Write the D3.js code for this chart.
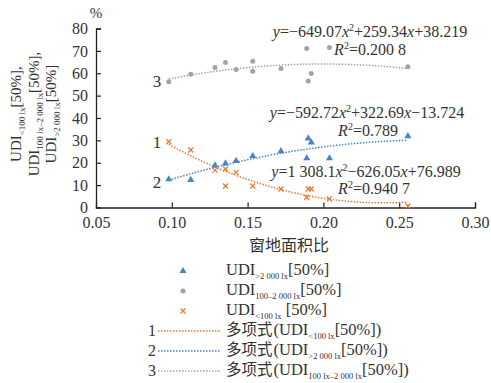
<!DOCTYPE html>
<html><head><meta charset="utf-8">
<script src="https://cdn.jsdelivr.net/npm/d3@7"></script>
<style>
body{margin:0;background:#fff;}
svg{display:block;}
</style></head>
<body><svg id="c" width="491" height="383"></svg>
<script>
// ---- data ----
const xTicks = [0.05, 0.10, 0.15, 0.20, 0.25, 0.30];
const yTicks = [0, 10, 20, 30, 40, 50, 60, 70, 80];

const xLow = [0.098, 0.1125, 0.1285, 0.1354, 0.1354, 0.1424, 0.1534, 0.172, 0.189, 0.190, 0.192, 0.204, 0.2557];
const yLow = [29.4, 25.7, 16.7, 17.2, 9.6, 15.7, 9.6, 8.3, 4.5, 8.3, 8.3, 3.8, 0.7];

const xHigh = [0.098, 0.1125, 0.1285, 0.1354, 0.1424, 0.1534, 0.172, 0.189, 0.190, 0.192, 0.204, 0.2557];
const yHigh = [12.6, 12.3, 18.8, 19.7, 20.8, 23.0, 25.2, 22.0, 30.9, 29.1, 22.0, 31.9];

const xMid = [0.098, 0.1125, 0.1285, 0.1354, 0.1424, 0.1534, 0.1534, 0.172, 0.189, 0.190, 0.192, 0.204, 0.2557];
const yMid = [56.2, 59.5, 62.6, 64.8, 61.7, 65.4, 60.9, 62.1, 71.1, 56.5, 59.9, 71.5, 62.9];

// polynomial trend coefficients as printed on the chart [a, b, c] : y = a x^2 + b x + c
const coefLow = [1308.1, -626.05, 76.989];
const coefHigh = [-592.72, 322.69, -13.724];
const coefMid = [-649.07, 259.34, 38.219];
const trendRange = [0.098, 0.2557];

const colBlue = "#4a84c4", colOrange = "#e47d3a", colGrey = "#a3a3a3";
const SERIF = '"Liberation Serif"';
const CJK = '"Noto Sans CJK SC"';

// ---- chart ----
const svg = d3.select("#c");
const x = d3.scaleLinear().domain([0.05, 0.30]).range([96, 475]);
const y = d3.scaleLinear().domain([0, 80]).range([207.5, 28.5]);

// axes
const xAxis = d3.axisBottom(x).tickValues(xTicks).tickSize(-5).tickFormat(d3.format(".2f")).tickPadding(9);
const yAxis = d3.axisLeft(y).tickValues(yTicks).tickSize(-5).tickPadding(8);
const gx = svg.append("g").attr("transform", `translate(0,${y(0)})`).call(xAxis);
const gy = svg.append("g").attr("transform", `translate(${x(0.05)},0)`).call(yAxis);
[gx, gy].forEach(g => {
  g.attr("font-family", null).attr("font-size", null);
  g.select(".domain").attr("stroke", "#222").attr("stroke-width", 1.3);
  g.selectAll(".tick line").attr("stroke", "#222").attr("stroke-width", 1.2);
  g.selectAll(".tick text").style("font-family", SERIF).style("font-size", "16px").attr("fill", "#333");
});
gx.selectAll(".tick").filter(d => d === 0.05).select("line").remove();
gy.selectAll(".tick").filter(d => d === 0).select("line").remove();

svg.append("text").attr("x", x(0.05)).attr("y", 18).attr("text-anchor", "middle")
  .style("font-family", SERIF).style("font-size", "15px").attr("fill", "#333").text("%");

// x title
svg.append("text").attr("x", 289).attr("y", 251).attr("text-anchor", "middle")
  .style("font-family", CJK).style("font-size", "16px").attr("fill", "#333").text("窗地面积比");

function richText(sel, parts, size, subSize, shift) {
  sel.style("font-family", SERIF).style("font-size", size + "px");
  parts.forEach(p => {
    const ts = sel.append("tspan");
    if (p.sub) {
      ts.style("font-size", subSize + "px").attr("dy", shift).text(p.t);
    } else if (p.back) {
      ts.attr("dy", -shift).text(p.t);
    } else {
      ts.text(p.t);
      if (p.cjk) ts.style("font-family", CJK).style("font-size", (size - 1) + "px");
      if (p.gap) ts.attr("dx", p.gap);
    }
  });
}

// y title (three rotated lines)
const yTitle = [
  {xx: 21, parts: [{t: "UDI"}, {t: "<100 lx", sub: true}, {t: "[50%],", back: true}]},
  {xx: 39, parts: [{t: "UDI"}, {t: "100 lx–2 000 lx", sub: true}, {t: "[50%],", back: true}]},
  {xx: 56, parts: [{t: "UDI"}, {t: ">2 000 lx", sub: true}, {t: "[50%]", back: true}]}
];
yTitle.forEach(l => {
  const t = svg.append("text").attr("transform", `translate(${l.xx},114) rotate(-90)`)
    .attr("text-anchor", "middle").attr("fill", "#333");
  richText(t, l.parts, 15, 9, 4);
});

// trend lines
const line = d3.line().x(d => x(d[0])).y(d => y(d[1]));
function trend(c) {
  const n = 60, pts = [];
  for (let i = 0; i <= n; i++) {
    const xv = trendRange[0] + (trendRange[1] - trendRange[0]) * i / n;
    pts.push([xv, c[0] * xv * xv + c[1] * xv + c[2]]);
  }
  return pts;
}
[[coefMid, colGrey], [coefHigh, colBlue], [coefLow, colOrange]].forEach(([c, col]) => {
  svg.append("path").attr("d", line(trend(c))).attr("fill", "none").attr("stroke", col)
    .attr("stroke-width", 1.5).attr("stroke-dasharray", "1.5,1.5");
});

// markers
const tri = d3.symbol().type(d3.symbolTriangle).size(22);
function drawTri(g, px, py) { g.append("path").attr("d", tri()).attr("transform", `translate(${px},${py})`).attr("fill", colBlue); }
function drawCirc(g, px, py) { g.append("circle").attr("cx", px).attr("cy", py).attr("r", 2.5).attr("fill", colGrey); }
function drawX(g, px, py) {
  const s = 2.5;
  g.append("path").attr("d", `M${px - s},${py - s}L${px + s},${py + s}M${px - s},${py + s}L${px + s},${py - s}`)
    .attr("stroke", colOrange).attr("stroke-width", 1.3);
}
const gm = svg.append("g");
xMid.forEach((v, i) => drawCirc(gm, x(v), y(yMid[i])));
xHigh.forEach((v, i) => drawTri(gm, x(v), y(yHigh[i])));
xLow.forEach((v, i) => drawX(gm, x(v), y(yLow[i])));

// curve numbers
[["3", 87], ["1", 148], ["2", 188]].forEach(([s, yy]) => {
  svg.append("text").attr("x", 157).attr("y", yy).attr("text-anchor", "middle")
    .style("font-family", SERIF).style("font-size", "17px").attr("fill", "#333").text(s);
});

// equations
function eq(cx, yy, parts) {
  const t = svg.append("text").attr("x", cx).attr("y", yy).attr("text-anchor", "middle")
    .style("font-family", SERIF).style("font-size", "16px").attr("fill", "#333");
  parts.forEach(p => {
    const ts = t.append("tspan").text(p.t);
    if (p.i) ts.style("font-style", "italic");
    if (p.sup) ts.style("font-size", "10px").attr("dy", -6);
    if (p.down) ts.attr("dy", 6);
  });
}
eq(370, 37, [{t: "y", i: 1}, {t: "=−649.07"}, {t: "x", i: 1}, {t: "2", sup: 1}, {t: "+259.34", down: 1}, {t: "x", i: 1}, {t: "+38.219"}]);
eq(370, 55, [{t: "R", i: 1}, {t: "2", sup: 1}, {t: "=0.200 8", down: 1}]);
eq(367, 118, [{t: "y", i: 1}, {t: "=−592.72"}, {t: "x", i: 1}, {t: "2", sup: 1}, {t: "+322.69", down: 1}, {t: "x", i: 1}, {t: "−13.724"}]);
eq(368, 136, [{t: "R", i: 1}, {t: "2", sup: 1}, {t: "=0.789", down: 1}]);
eq(366, 177, [{t: "y", i: 1}, {t: "=1 308.1"}, {t: "x", i: 1}, {t: "2", sup: 1}, {t: "−626.05", down: 1}, {t: "x", i: 1}, {t: "+76.989"}]);
eq(374, 194, [{t: "R", i: 1}, {t: "2", sup: 1}, {t: "=0.940 7", down: 1}]);

// legend
const legRows = [
  {y: 275, m: "tri", parts: [{t: "UDI"}, {t: ">2 000 lx", sub: true}, {t: "[50%]", back: true}]},
  {y: 295, m: "circ", parts: [{t: "UDI"}, {t: "100–2 000 lx", sub: true}, {t: "[50%]", back: true}]},
  {y: 315, m: "x", parts: [{t: "UDI"}, {t: "<100 lx", sub: true}, {t: " [50%]", back: true}]},
  {y: 335, m: "line", num: "1", col: colOrange, parts: [{t: "多项式", cjk: true}, {t: "(UDI", gap: 1}, {t: "<100 lx", sub: true}, {t: "[50%])", back: true}]},
  {y: 355, m: "line", num: "2", col: colBlue, parts: [{t: "多项式", cjk: true}, {t: "(UDI", gap: 1}, {t: ">2 000 lx", sub: true}, {t: "[50%])", back: true}]},
  {y: 375, m: "line", num: "3", col: colGrey, parts: [{t: "多项式", cjk: true}, {t: "(UDI", gap: 1}, {t: "100 lx–2 000 lx", sub: true}, {t: "[50%])", back: true}]}
];
const gl = svg.append("g");
legRows.forEach(r => {
  const my = r.y - 4;
  if (r.m === "tri") drawTri(gl, 183, my);
  if (r.m === "circ") drawCirc(gl, 183, my);
  if (r.m === "x") drawX(gl, 183, my);
  if (r.m === "line") {
    gl.append("text").attr("x", 152).attr("y", r.y + 1).attr("text-anchor", "middle")
      .style("font-family", SERIF).style("font-size", "16px").attr("fill", "#333").text(r.num);
    gl.append("line").attr("x1", 158).attr("x2", 220).attr("y1", my).attr("y2", my)
      .attr("stroke", r.col).attr("stroke-width", 1.5).attr("stroke-dasharray", "1.5,1.5");
  }
  const t = gl.append("text").attr("x", 226).attr("y", r.y).attr("fill", "#333");
  richText(t, r.parts, 16.5, 8.5, 3.5);
});
</script></body></html>
